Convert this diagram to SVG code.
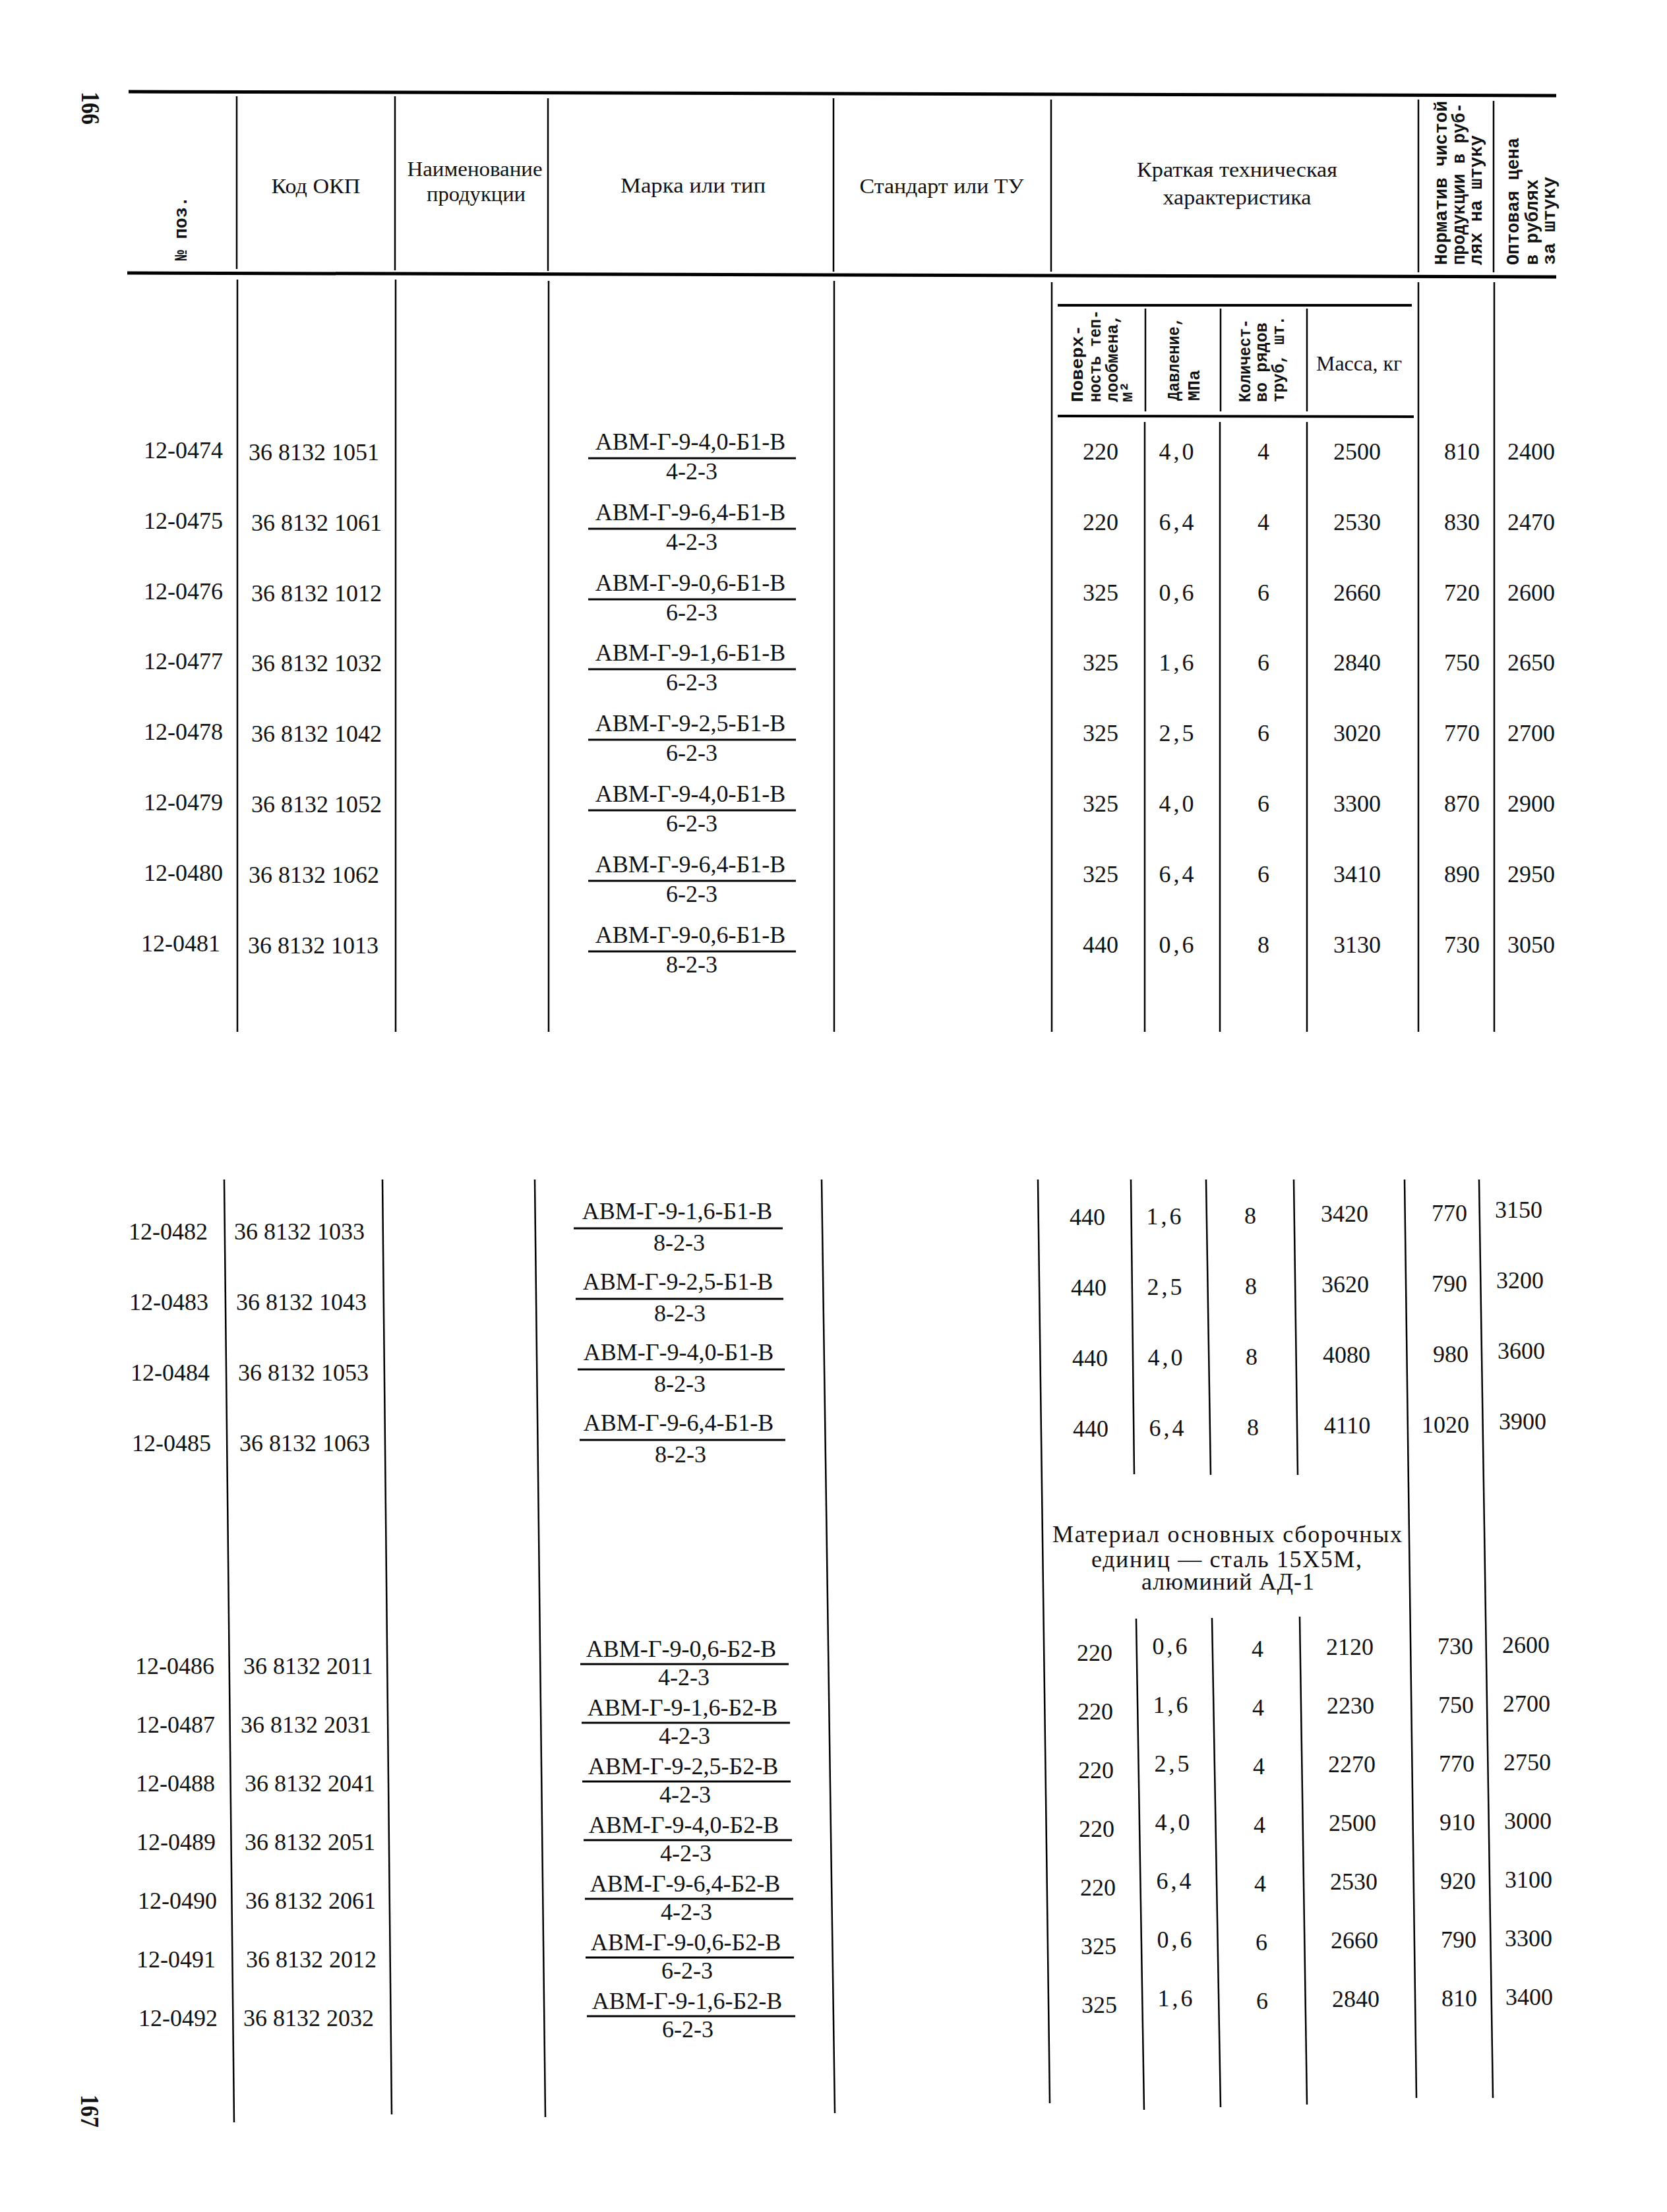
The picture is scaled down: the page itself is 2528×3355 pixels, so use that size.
<svg xmlns="http://www.w3.org/2000/svg" width="2528" height="3355" viewBox="0 0 2528 3355">
<style>
.t{font-family:"Liberation Serif","DejaVu Serif",serif;font-size:36px;fill:#111}
.m{text-anchor:middle}
.e{text-anchor:end}
.c{letter-spacing:4px}
.hd{font-family:"Liberation Serif","DejaVu Serif",serif;font-size:32px;fill:#111;text-anchor:middle}
.rt{font-family:"Liberation Mono","DejaVu Sans Mono",monospace;font-weight:bold;font-size:27px;fill:#111}
.rs{font-family:"Liberation Mono","DejaVu Sans Mono",monospace;font-weight:bold;font-size:26px;fill:#111}
.pg{font-family:"Liberation Serif","DejaVu Serif",serif;font-weight:bold;font-size:40px;fill:#111}
.rule{stroke:#000;stroke-width:2.5;fill:none}
.thick{stroke-width:5}
.sub{stroke-width:4}
.fl{stroke:#000;stroke-width:3}
</style>
<rect width="2528" height="3355" fill="#fff"/>

<g id="page-numbers">
<text class="pg" x="124" y="139" transform="rotate(90 124 139)" textLength="50" lengthAdjust="spacingAndGlyphs">166</text>
<text class="pg" x="123" y="3177" transform="rotate(90 123 3177)" textLength="50" lengthAdjust="spacingAndGlyphs">167</text>
</g>

<g id="connectors">
<line class="rule thick" x1="195" y1="139" x2="2360" y2="145"/>
<line class="rule thick" x1="193" y1="414" x2="2360" y2="420"/>
<line class="rule" x1="359" y1="146" x2="359" y2="408"/>
<line class="rule" x1="599" y1="146" x2="599" y2="410"/>
<line class="rule" x1="831" y1="149" x2="831" y2="411"/>
<line class="rule" x1="1264" y1="149" x2="1264" y2="412"/>
<line class="rule" x1="1594" y1="151" x2="1594" y2="412"/>
<line class="rule" x1="2151" y1="151" x2="2151" y2="413"/>
<line class="rule" x1="2265" y1="153" x2="2265" y2="413"/>
<line class="rule" x1="360" y1="424" x2="360" y2="1565"/>
<line class="rule" x1="600" y1="424" x2="600" y2="1565"/>
<line class="rule" x1="832" y1="426" x2="832" y2="1565"/>
<line class="rule" x1="1265" y1="426" x2="1265" y2="1565"/>
<line class="rule" x1="1595" y1="428" x2="1595" y2="1565"/>
<line class="rule" x1="2151" y1="428" x2="2151" y2="1565"/>
<line class="rule" x1="2266" y1="428" x2="2266" y2="1565"/>
<line class="rule sub" x1="1604" y1="463" x2="2141" y2="463"/>
<line class="rule sub" x1="1604" y1="631" x2="2144" y2="632"/>
<line class="rule" x1="1737" y1="468" x2="1737" y2="624"/>
<line class="rule" x1="1851" y1="468" x2="1851" y2="624"/>
<line class="rule" x1="1982" y1="468" x2="1982" y2="624"/>
<line class="rule" x1="1736" y1="640" x2="1736" y2="1565"/>
<line class="rule" x1="1850" y1="640" x2="1850" y2="1565"/>
<line class="rule" x1="1982" y1="640" x2="1982" y2="1565"/>
<line class="rule" x1="340" y1="1789" x2="355" y2="3219"/>
<line class="rule" x1="580" y1="1789" x2="594" y2="3207"/>
<line class="rule" x1="811" y1="1789" x2="827" y2="3211"/>
<line class="rule" x1="1246" y1="1789" x2="1266" y2="3205"/>
<line class="rule" x1="1574" y1="1789" x2="1592" y2="3190"/>
<line class="rule" x1="2130" y1="1789" x2="2148" y2="3182"/>
<line class="rule" x1="2243" y1="1789" x2="2264" y2="3182"/>
<line class="rule" x1="1715" y1="1789" x2="1720" y2="2236"/>
<line class="rule" x1="1829" y1="1789" x2="1836" y2="2237"/>
<line class="rule" x1="1962" y1="1789" x2="1968" y2="2237"/>
<line class="rule" x1="1723" y1="2455" x2="1735" y2="3200"/>
<line class="rule" x1="1838" y1="2454" x2="1851" y2="3196"/>
<line class="rule" x1="1971" y1="2452" x2="1982" y2="3192"/>
</g>

<g id="header">
<text class="rt" x="283" y="395" transform="rotate(-90 283 395)" font-size="28">№ поз.</text>
<text class="hd" x="479" y="293" textLength="135" lengthAdjust="spacingAndGlyphs">Код ОКП</text>
<text class="hd" x="720" y="267" textLength="205" lengthAdjust="spacingAndGlyphs">Наименование</text>
<text class="hd" x="722" y="305" textLength="150" lengthAdjust="spacingAndGlyphs">продукции</text>
<text class="hd" x="1051" y="292" textLength="220" lengthAdjust="spacingAndGlyphs">Марка или тип</text>
<text class="hd" x="1428" y="293" textLength="249" lengthAdjust="spacingAndGlyphs">Стандарт или ТУ</text>
<text class="hd" x="1876" y="268" textLength="304" lengthAdjust="spacingAndGlyphs">Краткая техническая</text>
<text class="hd" x="1876" y="310" textLength="225" lengthAdjust="spacingAndGlyphs">характеристика</text>
<text class="rt" x="2194" y="402" transform="rotate(-90 2194 402)" textLength="249" lengthAdjust="spacingAndGlyphs">Норматив чистой</text>
<text class="rt" x="2221" y="402" transform="rotate(-90 2221 402)" textLength="246" lengthAdjust="spacingAndGlyphs">продукции в руб-</text>
<text class="rt" x="2247" y="402" transform="rotate(-90 2247 402)" textLength="197" lengthAdjust="spacingAndGlyphs">лях на штуку</text>
<text class="rt" x="2303" y="402" transform="rotate(-90 2303 402)" textLength="193" lengthAdjust="spacingAndGlyphs">Оптовая цена</text>
<text class="rt" x="2332" y="402" transform="rotate(-90 2332 402)" textLength="130" lengthAdjust="spacingAndGlyphs">в рублях</text>
<text class="rt" x="2358" y="402" transform="rotate(-90 2358 402)" textLength="134" lengthAdjust="spacingAndGlyphs">за штуку</text>
<text class="rs" x="1642" y="610" transform="rotate(-90 1642 610)" textLength="117" lengthAdjust="spacingAndGlyphs">Поверх-</text>
<text class="rs" x="1669" y="610" transform="rotate(-90 1669 610)" textLength="140" lengthAdjust="spacingAndGlyphs">ность теп-</text>
<text class="rs" x="1695" y="610" transform="rotate(-90 1695 610)" textLength="133" lengthAdjust="spacingAndGlyphs">лообмена,</text>
<text class="rs" x="1717" y="610" transform="rotate(-90 1717 610)">м²</text>
<text class="rs" x="1788" y="608" transform="rotate(-90 1788 608)" textLength="127" lengthAdjust="spacingAndGlyphs">Давление,</text>
<text class="rs" x="1819" y="608" transform="rotate(-90 1819 608)">МПа</text>
<text class="rs" x="1896" y="610" transform="rotate(-90 1896 610)" textLength="126" lengthAdjust="spacingAndGlyphs">Количест-</text>
<text class="rs" x="1921" y="610" transform="rotate(-90 1921 610)" textLength="121" lengthAdjust="spacingAndGlyphs">во рядов</text>
<text class="rs" x="1947" y="610" transform="rotate(-90 1947 610)" textLength="131" lengthAdjust="spacingAndGlyphs">труб, шт.</text>
<text class="hd" x="2061" y="562" textLength="130" lengthAdjust="spacingAndGlyphs">Масса, кг</text>
</g>

<g id="row-12-0474">
<text class="t e" x="338" y="695">12-0474</text><text class="t" x="377" y="698">36 8132 1051</text>
<text class="t m" x="1047" y="682">АВМ-Г-9-4,0-Б1-В</text><line class="fl" x1="892" y1="695" x2="1207" y2="695"/><text class="t m" x="1049" y="727">4-2-3</text>
<text class="t m" x="1669" y="697">220</text><text class="t m c" x="1786" y="697">4,0</text><text class="t m" x="1916" y="697">4</text><text class="t m" x="2058" y="697">2500</text><text class="t e" x="2244" y="697">810</text><text class="t m" x="2322" y="697">2400</text>
</g>
<g id="row-12-0475">
<text class="t e" x="338" y="802">12-0475</text><text class="t" x="381" y="805">36 8132 1061</text>
<text class="t m" x="1047" y="789">АВМ-Г-9-6,4-Б1-В</text><line class="fl" x1="892" y1="802" x2="1207" y2="802"/><text class="t m" x="1049" y="834">4-2-3</text>
<text class="t m" x="1669" y="804">220</text><text class="t m c" x="1786" y="804">6,4</text><text class="t m" x="1916" y="804">4</text><text class="t m" x="2058" y="804">2530</text><text class="t e" x="2244" y="804">830</text><text class="t m" x="2322" y="804">2470</text>
</g>
<g id="row-12-0476">
<text class="t e" x="338" y="909">12-0476</text><text class="t" x="381" y="912">36 8132 1012</text>
<text class="t m" x="1047" y="896">АВМ-Г-9-0,6-Б1-В</text><line class="fl" x1="892" y1="909" x2="1207" y2="909"/><text class="t m" x="1049" y="941">6-2-3</text>
<text class="t m" x="1669" y="911">325</text><text class="t m c" x="1786" y="911">0,6</text><text class="t m" x="1916" y="911">6</text><text class="t m" x="2058" y="911">2660</text><text class="t e" x="2244" y="911">720</text><text class="t m" x="2322" y="911">2600</text>
</g>
<g id="row-12-0477">
<text class="t e" x="338" y="1015">12-0477</text><text class="t" x="381" y="1018">36 8132 1032</text>
<text class="t m" x="1047" y="1002">АВМ-Г-9-1,6-Б1-В</text><line class="fl" x1="892" y1="1015" x2="1207" y2="1015"/><text class="t m" x="1049" y="1047">6-2-3</text>
<text class="t m" x="1669" y="1017">325</text><text class="t m c" x="1786" y="1017">1,6</text><text class="t m" x="1916" y="1017">6</text><text class="t m" x="2058" y="1017">2840</text><text class="t e" x="2244" y="1017">750</text><text class="t m" x="2322" y="1017">2650</text>
</g>
<g id="row-12-0478">
<text class="t e" x="338" y="1122">12-0478</text><text class="t" x="381" y="1125">36 8132 1042</text>
<text class="t m" x="1047" y="1109">АВМ-Г-9-2,5-Б1-В</text><line class="fl" x1="892" y1="1122" x2="1207" y2="1122"/><text class="t m" x="1049" y="1154">6-2-3</text>
<text class="t m" x="1669" y="1124">325</text><text class="t m c" x="1786" y="1124">2,5</text><text class="t m" x="1916" y="1124">6</text><text class="t m" x="2058" y="1124">3020</text><text class="t e" x="2244" y="1124">770</text><text class="t m" x="2322" y="1124">2700</text>
</g>
<g id="row-12-0479">
<text class="t e" x="338" y="1229">12-0479</text><text class="t" x="381" y="1232">36 8132 1052</text>
<text class="t m" x="1047" y="1216">АВМ-Г-9-4,0-Б1-В</text><line class="fl" x1="892" y1="1229" x2="1207" y2="1229"/><text class="t m" x="1049" y="1261">6-2-3</text>
<text class="t m" x="1669" y="1231">325</text><text class="t m c" x="1786" y="1231">4,0</text><text class="t m" x="1916" y="1231">6</text><text class="t m" x="2058" y="1231">3300</text><text class="t e" x="2244" y="1231">870</text><text class="t m" x="2322" y="1231">2900</text>
</g>
<g id="row-12-0480">
<text class="t e" x="338" y="1336">12-0480</text><text class="t" x="377" y="1339">36 8132 1062</text>
<text class="t m" x="1047" y="1323">АВМ-Г-9-6,4-Б1-В</text><line class="fl" x1="892" y1="1336" x2="1207" y2="1336"/><text class="t m" x="1049" y="1368">6-2-3</text>
<text class="t m" x="1669" y="1338">325</text><text class="t m c" x="1786" y="1338">6,4</text><text class="t m" x="1916" y="1338">6</text><text class="t m" x="2058" y="1338">3410</text><text class="t e" x="2244" y="1338">890</text><text class="t m" x="2322" y="1338">2950</text>
</g>
<g id="row-12-0481">
<text class="t e" x="334" y="1443">12-0481</text><text class="t" x="376" y="1446">36 8132 1013</text>
<text class="t m" x="1047" y="1430">АВМ-Г-9-0,6-Б1-В</text><line class="fl" x1="892" y1="1443" x2="1207" y2="1443"/><text class="t m" x="1049" y="1475">8-2-3</text>
<text class="t m" x="1669" y="1445">440</text><text class="t m c" x="1786" y="1445">0,6</text><text class="t m" x="1916" y="1445">8</text><text class="t m" x="2058" y="1445">3130</text><text class="t e" x="2244" y="1445">730</text><text class="t m" x="2322" y="1445">3050</text>
</g>

<g id="row-12-0482">
<text class="t e" x="315" y="1880">12-0482</text><text class="t" x="355" y="1880">36 8132 1033</text>
<text class="t m" x="1027" y="1849">АВМ-Г-9-1,6-Б1-В</text><line class="fl" x1="870" y1="1863" x2="1187" y2="1863"/><text class="t m" x="1030" y="1897">8-2-3</text>
<text class="t m" x="1649" y="1858">440</text><text class="t m c" x="1767" y="1857">1,6</text><text class="t m" x="1896" y="1856">8</text><text class="t m" x="2039" y="1853">3420</text><text class="t e" x="2225" y="1852">770</text><text class="t m" x="2303" y="1847">3150</text>
</g>
<g id="row-12-0483">
<text class="t e" x="316" y="1987">12-0483</text><text class="t" x="358" y="1987">36 8132 1043</text>
<text class="t m" x="1028" y="1956">АВМ-Г-9-2,5-Б1-В</text><line class="fl" x1="873" y1="1970" x2="1188" y2="1970"/><text class="t m" x="1031" y="2004">8-2-3</text>
<text class="t m" x="1651" y="1965">440</text><text class="t m c" x="1768" y="1964">2,5</text><text class="t m" x="1897" y="1963">8</text><text class="t m" x="2040" y="1960">3620</text><text class="t e" x="2225" y="1959">790</text><text class="t m" x="2305" y="1954">3200</text>
</g>
<g id="row-12-0484">
<text class="t e" x="318" y="2094">12-0484</text><text class="t" x="361" y="2094">36 8132 1053</text>
<text class="t m" x="1029" y="2063">АВМ-Г-9-4,0-Б1-В</text><line class="fl" x1="876" y1="2077" x2="1190" y2="2077"/><text class="t m" x="1031" y="2111">8-2-3</text>
<text class="t m" x="1653" y="2072">440</text><text class="t m c" x="1769" y="2071">4,0</text><text class="t m" x="1898" y="2070">8</text><text class="t m" x="2042" y="2067">4080</text><text class="t e" x="2227" y="2066">980</text><text class="t m" x="2307" y="2061">3600</text>
</g>
<g id="row-12-0485">
<text class="t e" x="320" y="2201">12-0485</text><text class="t" x="363" y="2201">36 8132 1063</text>
<text class="t m" x="1029" y="2170">АВМ-Г-9-6,4-Б1-В</text><line class="fl" x1="879" y1="2184" x2="1191" y2="2184"/><text class="t m" x="1032" y="2218">8-2-3</text>
<text class="t m" x="1654" y="2179">440</text><text class="t m c" x="1771" y="2178">6,4</text><text class="t m" x="1900" y="2177">8</text><text class="t m" x="2043" y="2174">4110</text><text class="t e" x="2228" y="2173">1020</text><text class="t m" x="2309" y="2168">3900</text>
</g>

<g id="note-material">
<text class="t m" x="1861" y="2339" textLength="530" lengthAdjust="spacing">Материал основных сборочных</text>
<text class="t m" x="1860" y="2377" textLength="410" lengthAdjust="spacing">единиц — сталь 15Х5М,</text>
<text class="t m" x="1862" y="2411" textLength="262" lengthAdjust="spacing">алюминий АД-1</text>
</g>

<g id="row-12-0486">
<text class="t e" x="325" y="2539">12-0486</text><text class="t" x="369" y="2539">36 8132 2011</text>
<text class="t m" x="1033" y="2513">АВМ-Г-9-0,6-Б2-В</text><line class="fl" x1="880" y1="2524" x2="1196" y2="2524"/><text class="t m" x="1037" y="2556">4-2-3</text>
<text class="t m" x="1660" y="2519">220</text><text class="t m c" x="1776" y="2509">0,6</text><text class="t m" x="1907" y="2513">4</text><text class="t m" x="2047" y="2510">2120</text><text class="t e" x="2234" y="2509">730</text><text class="t m" x="2314" y="2507">2600</text>
</g>
<g id="row-12-0487">
<text class="t e" x="326" y="2628">12-0487</text><text class="t" x="365" y="2628">36 8132 2031</text>
<text class="t m" x="1035" y="2602">АВМ-Г-9-1,6-Б2-В</text><line class="fl" x1="882" y1="2613" x2="1198" y2="2613"/><text class="t m" x="1038" y="2645">4-2-3</text>
<text class="t m" x="1661" y="2608">220</text><text class="t m c" x="1777" y="2598">1,6</text><text class="t m" x="1908" y="2602">4</text><text class="t m" x="2048" y="2599">2230</text><text class="t e" x="2235" y="2598">750</text><text class="t m" x="2315" y="2596">2700</text>
</g>
<g id="row-12-0488">
<text class="t e" x="326" y="2717">12-0488</text><text class="t" x="371" y="2717">36 8132 2041</text>
<text class="t m" x="1036" y="2691">АВМ-Г-9-2,5-Б2-В</text><line class="fl" x1="883" y1="2702" x2="1199" y2="2702"/><text class="t m" x="1039" y="2734">4-2-3</text>
<text class="t m" x="1662" y="2697">220</text><text class="t m c" x="1779" y="2687">2,5</text><text class="t m" x="1909" y="2691">4</text><text class="t m" x="2050" y="2688">2270</text><text class="t e" x="2236" y="2687">770</text><text class="t m" x="2316" y="2685">2750</text>
</g>
<g id="row-12-0489">
<text class="t e" x="327" y="2806">12-0489</text><text class="t" x="371" y="2806">36 8132 2051</text>
<text class="t m" x="1037" y="2780">АВМ-Г-9-4,0-Б2-В</text><line class="fl" x1="885" y1="2791" x2="1201" y2="2791"/><text class="t m" x="1040" y="2823">4-2-3</text>
<text class="t m" x="1663" y="2786">220</text><text class="t m c" x="1780" y="2776">4,0</text><text class="t m" x="1910" y="2780">4</text><text class="t m" x="2051" y="2777">2500</text><text class="t e" x="2237" y="2776">910</text><text class="t m" x="2317" y="2774">3000</text>
</g>
<g id="row-12-0490">
<text class="t e" x="329" y="2895">12-0490</text><text class="t" x="372" y="2895">36 8132 2061</text>
<text class="t m" x="1039" y="2869">АВМ-Г-9-6,4-Б2-В</text><line class="fl" x1="887" y1="2880" x2="1203" y2="2880"/><text class="t m" x="1041" y="2912">4-2-3</text>
<text class="t m" x="1665" y="2875">220</text><text class="t m c" x="1782" y="2865">6,4</text><text class="t m" x="1911" y="2869">4</text><text class="t m" x="2053" y="2866">2530</text><text class="t e" x="2238" y="2865">920</text><text class="t m" x="2318" y="2863">3100</text>
</g>
<g id="row-12-0491">
<text class="t e" x="327" y="2984">12-0491</text><text class="t" x="373" y="2984">36 8132 2012</text>
<text class="t m" x="1040" y="2958">АВМ-Г-9-0,6-Б2-В</text><line class="fl" x1="888" y1="2969" x2="1204" y2="2969"/><text class="t m" x="1042" y="3001">6-2-3</text>
<text class="t m" x="1666" y="2964">325</text><text class="t m c" x="1783" y="2954">0,6</text><text class="t m" x="1913" y="2958">6</text><text class="t m" x="2054" y="2955">2660</text><text class="t e" x="2239" y="2954">790</text><text class="t m" x="2318" y="2952">3300</text>
</g>
<g id="row-12-0492">
<text class="t e" x="330" y="3073">12-0492</text><text class="t" x="369" y="3073">36 8132 2032</text>
<text class="t m" x="1042" y="3047">АВМ-Г-9-1,6-Б2-В</text><line class="fl" x1="890" y1="3058" x2="1206" y2="3058"/><text class="t m" x="1043" y="3090">6-2-3</text>
<text class="t m" x="1667" y="3053">325</text><text class="t m c" x="1784" y="3043">1,6</text><text class="t m" x="1914" y="3047">6</text><text class="t m" x="2056" y="3044">2840</text><text class="t e" x="2240" y="3043">810</text><text class="t m" x="2319" y="3041">3400</text>
</g>
</svg>
